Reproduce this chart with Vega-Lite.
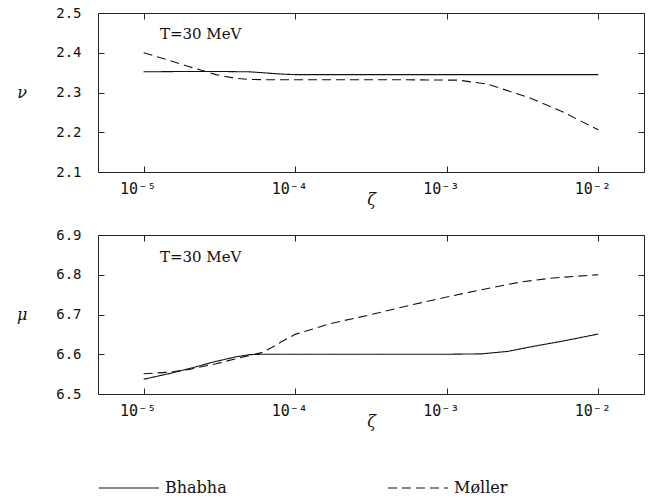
{
  "$schema": "https://vega.github.io/schema/vega-lite/v6.json",
  "background": "white",
  "padding": {"left": 16, "top": 5, "right": 5, "bottom": 0},
  "datasets": {
    "curves": [
      {"panel": "nu", "series": "Bhabha", "zeta": 1e-5, "value": 2.352},
      {"panel": "nu", "series": "Bhabha", "zeta": 2e-5, "value": 2.353},
      {"panel": "nu", "series": "Bhabha", "zeta": 3e-5, "value": 2.353},
      {"panel": "nu", "series": "Bhabha", "zeta": 5e-5, "value": 2.352},
      {"panel": "nu", "series": "Bhabha", "zeta": 6e-5, "value": 2.350},
      {"panel": "nu", "series": "Bhabha", "zeta": 7e-5, "value": 2.348},
      {"panel": "nu", "series": "Bhabha", "zeta": 8.5e-5, "value": 2.346},
      {"panel": "nu", "series": "Bhabha", "zeta": 1e-4, "value": 2.345},
      {"panel": "nu", "series": "Bhabha", "zeta": 1e-3, "value": 2.345},
      {"panel": "nu", "series": "Bhabha", "zeta": 1e-2, "value": 2.345},
      {"panel": "nu", "series": "Møller", "zeta": 1e-5, "value": 2.400},
      {"panel": "nu", "series": "Møller", "zeta": 1.5e-5, "value": 2.380},
      {"panel": "nu", "series": "Møller", "zeta": 2e-5, "value": 2.365},
      {"panel": "nu", "series": "Møller", "zeta": 2.5e-5, "value": 2.354},
      {"panel": "nu", "series": "Møller", "zeta": 3e-5, "value": 2.345},
      {"panel": "nu", "series": "Møller", "zeta": 4e-5, "value": 2.336},
      {"panel": "nu", "series": "Møller", "zeta": 5e-5, "value": 2.333},
      {"panel": "nu", "series": "Møller", "zeta": 7e-5, "value": 2.332},
      {"panel": "nu", "series": "Møller", "zeta": 1e-4, "value": 2.332},
      {"panel": "nu", "series": "Møller", "zeta": 5e-4, "value": 2.332},
      {"panel": "nu", "series": "Møller", "zeta": 1.2e-3, "value": 2.331},
      {"panel": "nu", "series": "Møller", "zeta": 1.86e-3, "value": 2.321},
      {"panel": "nu", "series": "Møller", "zeta": 3.5e-3, "value": 2.287},
      {"panel": "nu", "series": "Møller", "zeta": 5.7e-3, "value": 2.253},
      {"panel": "nu", "series": "Møller", "zeta": 1e-2, "value": 2.206},
      {"panel": "mu", "series": "Bhabha", "zeta": 1e-5, "value": 6.537},
      {"panel": "mu", "series": "Bhabha", "zeta": 1.5e-5, "value": 6.552},
      {"panel": "mu", "series": "Bhabha", "zeta": 2e-5, "value": 6.564},
      {"panel": "mu", "series": "Bhabha", "zeta": 3e-5, "value": 6.582},
      {"panel": "mu", "series": "Bhabha", "zeta": 4e-5, "value": 6.593},
      {"panel": "mu", "series": "Bhabha", "zeta": 5e-5, "value": 6.599},
      {"panel": "mu", "series": "Bhabha", "zeta": 6e-5, "value": 6.600},
      {"panel": "mu", "series": "Bhabha", "zeta": 1e-4, "value": 6.600},
      {"panel": "mu", "series": "Bhabha", "zeta": 1e-3, "value": 6.600},
      {"panel": "mu", "series": "Bhabha", "zeta": 1.7e-3, "value": 6.601},
      {"panel": "mu", "series": "Bhabha", "zeta": 2.5e-3, "value": 6.607},
      {"panel": "mu", "series": "Bhabha", "zeta": 4e-3, "value": 6.622},
      {"panel": "mu", "series": "Bhabha", "zeta": 6e-3, "value": 6.634},
      {"panel": "mu", "series": "Bhabha", "zeta": 1e-2, "value": 6.651},
      {"panel": "mu", "series": "Møller", "zeta": 1e-5, "value": 6.551},
      {"panel": "mu", "series": "Møller", "zeta": 1.5e-5, "value": 6.555},
      {"panel": "mu", "series": "Møller", "zeta": 2e-5, "value": 6.562},
      {"panel": "mu", "series": "Møller", "zeta": 3e-5, "value": 6.576},
      {"panel": "mu", "series": "Møller", "zeta": 4e-5, "value": 6.588},
      {"panel": "mu", "series": "Møller", "zeta": 5e-5, "value": 6.597},
      {"panel": "mu", "series": "Møller", "zeta": 6e-5, "value": 6.604},
      {"panel": "mu", "series": "Møller", "zeta": 7e-5, "value": 6.617},
      {"panel": "mu", "series": "Møller", "zeta": 8e-5, "value": 6.630},
      {"panel": "mu", "series": "Møller", "zeta": 1e-4, "value": 6.650},
      {"panel": "mu", "series": "Møller", "zeta": 1.7e-4, "value": 6.677},
      {"panel": "mu", "series": "Møller", "zeta": 3.1e-4, "value": 6.699},
      {"panel": "mu", "series": "Møller", "zeta": 6e-4, "value": 6.725},
      {"panel": "mu", "series": "Møller", "zeta": 1e-3, "value": 6.744},
      {"panel": "mu", "series": "Møller", "zeta": 2e-3, "value": 6.768},
      {"panel": "mu", "series": "Møller", "zeta": 3.1e-3, "value": 6.782},
      {"panel": "mu", "series": "Møller", "zeta": 5e-3, "value": 6.792},
      {"panel": "mu", "series": "Møller", "zeta": 1e-2, "value": 6.800}
    ],
    "notes": [
      {"panel": "nu", "zeta": 1.28e-5, "value": 2.447, "label": "T=30 MeV"},
      {"panel": "mu", "zeta": 1.28e-5, "value": 6.845, "label": "T=30 MeV"}
    ]
  },
  "spacing": 19,
  "resolve": {"scale": {"strokeDash": "shared"}, "legend": {"strokeDash": "shared"}},
  "vconcat": [
    {
      "width": 546,
      "height": 159,
      "resolve": {"axis": {"x": "independent", "y": "independent"}},
      "layer": [
        {
          "data": {"name": "curves"},
          "transform": [{"filter": "datum.panel === 'nu'"}],
          "mark": {"type": "line", "color": "#111", "strokeWidth": 1.1},
          "encoding": {
            "x": {"field": "zeta", "type": "quantitative",
                  "scale": {"type": "log", "domain": [5e-6, 2e-2], "nice": false},
                  "axis": {"orient": "bottom", "title": "ζ", "values": [1e-5, 1e-4, 1e-3, 1e-2],
                           "labelExpr": "datum.value < 5e-5 ? '10⁻⁵' : datum.value < 5e-4 ? '10⁻⁴' : datum.value < 5e-3 ? '10⁻³' : '10⁻²'"}},
            "y": {"field": "value", "type": "quantitative",
                  "scale": {"domain": [2.1, 2.5], "nice": false, "zero": false},
                  "axis": {"orient": "left", "title": "ν", "values": [2.1, 2.2, 2.3, 2.4, 2.5], "format": ".1f"}},
            "strokeDash": {"field": "series", "type": "nominal",
                           "scale": {"domain": ["Bhabha", "Møller"], "range": [[1, 0], [9, 5]]},
                           "legend": {"title": null}},
            "order": {"field": "zeta", "type": "quantitative"}
          }
        },
        {
          "data": {"name": "notes"},
          "transform": [{"filter": "datum.panel === 'nu'"}],
          "mark": {"type": "text", "align": "left", "baseline": "middle", "font": "DejaVu Serif", "fontSize": 15, "color": "#111"},
          "encoding": {
            "x": {"field": "zeta", "type": "quantitative",
                  "axis": {"orient": "top", "title": null, "labels": false, "offset": -6, "tickSize": 6, "values": [1e-5, 1e-4, 1e-3, 1e-2]}},
            "y": {"field": "value", "type": "quantitative",
                  "axis": {"orient": "right", "title": null, "labels": false, "offset": -6, "tickSize": 6, "values": [2.1, 2.2, 2.3, 2.4, 2.5]}},
            "text": {"field": "label"}
          }
        }
      ]
    },
    {
      "width": 546,
      "height": 159,
      "resolve": {"axis": {"x": "independent", "y": "independent"}},
      "layer": [
        {
          "data": {"name": "curves"},
          "transform": [{"filter": "datum.panel === 'mu'"}],
          "mark": {"type": "line", "color": "#111", "strokeWidth": 1.1},
          "encoding": {
            "x": {"field": "zeta", "type": "quantitative",
                  "scale": {"type": "log", "domain": [5e-6, 2e-2], "nice": false},
                  "axis": {"orient": "bottom", "title": "ζ", "values": [1e-5, 1e-4, 1e-3, 1e-2],
                           "labelExpr": "datum.value < 5e-5 ? '10⁻⁵' : datum.value < 5e-4 ? '10⁻⁴' : datum.value < 5e-3 ? '10⁻³' : '10⁻²'"}},
            "y": {"field": "value", "type": "quantitative",
                  "scale": {"domain": [6.5, 6.9], "nice": false, "zero": false},
                  "axis": {"orient": "left", "title": "μ", "values": [6.5, 6.6, 6.7, 6.8, 6.9], "format": ".1f"}},
            "strokeDash": {"field": "series", "type": "nominal",
                           "scale": {"domain": ["Bhabha", "Møller"], "range": [[1, 0], [9, 5]]},
                           "legend": {"title": null}},
            "order": {"field": "zeta", "type": "quantitative"}
          }
        },
        {
          "data": {"name": "notes"},
          "transform": [{"filter": "datum.panel === 'mu'"}],
          "mark": {"type": "text", "align": "left", "baseline": "middle", "font": "DejaVu Serif", "fontSize": 15, "color": "#111"},
          "encoding": {
            "x": {"field": "zeta", "type": "quantitative",
                  "axis": {"orient": "top", "title": null, "labels": false, "offset": -6, "tickSize": 6, "values": [1e-5, 1e-4, 1e-3, 1e-2]}},
            "y": {"field": "value", "type": "quantitative",
                  "axis": {"orient": "right", "title": null, "labels": false, "offset": -6, "tickSize": 6, "values": [6.5, 6.6, 6.7, 6.8, 6.9]}},
            "text": {"field": "label"}
          }
        }
      ]
    }
  ],
  "config": {
    "view": {"stroke": "#222", "strokeWidth": 1},
    "axis": {
      "grid": false, "domain": false, "tickColor": "#222", "tickSize": -6, "tickWidth": 1,
      "labelFont": "DejaVu Sans Mono", "labelFontSize": 14, "labelColor": "#111",
      "titleFont": "DejaVu Serif", "titleFontStyle": "italic", "titleFontWeight": "normal",
      "titleFontSize": 16, "titleColor": "#111"
    },
    "axisLeft": {"titleAngle": 0, "titleAlign": "center", "titleBaseline": "middle", "titlePadding": 34, "labelPadding": 23},
    "axisBottom": {"titlePadding": -5, "labelPadding": 15, "labelFontSize": 15, "labelOffset": -6},
    "legend": {
      "orient": "bottom", "direction": "horizontal", "symbolType": "M-3,0H3", "symbolSize": 400,
      "symbolStrokeWidth": 1.1, "symbolStrokeColor": "#111", "symbolFillColor": "transparent",
      "symbolOffset": 20, "labelFont": "DejaVu Serif",
      "labelFontSize": 16, "labelColor": "#111", "labelOffset": 25, "columnPadding": 158, "offset": 47
    }
  }
}
